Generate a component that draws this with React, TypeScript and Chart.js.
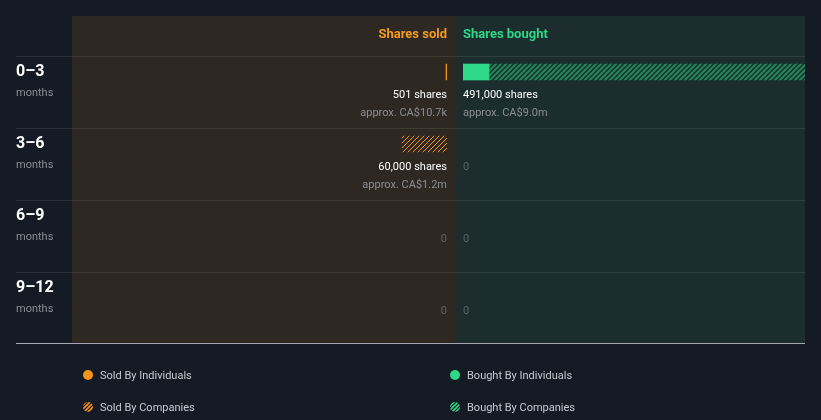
import React, { useEffect, useRef } from 'react';
import { Chart, registerables } from 'chart.js';

Chart.register(...registerables);

// ---- data ----
const periods = ['0–3', '3–6', '6–9', '9–12'];
const periodUnit = 'months';
const soldByIndividuals = [501, 0, 0, 0];
const soldByCompanies = [0, 60000, 0, 0];
const boughtByIndividuals = [37300, 0, 0, 0];
const boughtByCompanies = [453700, 0, 0, 0];
const soldValueLabels = ['approx. CA$10.7k', 'approx. CA$1.2m', '', ''];
const boughtValueLabels = ['approx. CA$9.0m', '', '', ''];
const headerLabels = ['Shares sold', 'Shares bought'];
const legendLabels = ['Sold By Individuals', 'Sold By Companies', 'Bought By Individuals', 'Bought By Companies'];

// ---- style ----
const FONT = 'Roboto, "Noto Sans", sans-serif';
const BG = '#151b25';
const SOLD_PANEL = '#2d2822';
const BOUGHT_PANEL = '#1b2e2d';
const ORANGE = '#f7931a';
const GREEN = '#2dd886';
const BAR = 16;

function makeHatch(color: string, lw: number, size: number) {
  const c = document.createElement('canvas');
  c.width = size;
  c.height = size;
  const g = c.getContext('2d') as CanvasRenderingContext2D;
  g.strokeStyle = color;
  g.lineWidth = lw;
  g.beginPath();
  g.moveTo(-size, size); g.lineTo(size, -size);
  g.moveTo(0, size); g.lineTo(size, 0);
  g.moveTo(0, 2 * size); g.lineTo(2 * size, 0);
  g.stroke();
  return g.createPattern(c, 'repeat') as CanvasPattern;
}

const nz = (arr: number[]) => arr.map((v) => (v ? v : null));

export default function App() {
  const ref = useRef<HTMLCanvasElement | null>(null);

  useEffect(() => {
    const canvas = ref.current;
    if (!canvas) return;
    const orangeHatch = makeHatch(ORANGE, 1, 5);
    const greenHatch = makeHatch('rgba(45,216,134,0.52)', 2, 5);
    const orangeHatchLegend = makeHatch(ORANGE, 1.6, 4);
    const greenHatchLegend = makeHatch(GREEN, 1.6, 4);

    const soldTotals = periods.map((_, i) => soldByIndividuals[i] + soldByCompanies[i]);
    const boughtTotals = periods.map((_, i) => boughtByIndividuals[i] + boughtByCompanies[i]);
    const maxTotal = Math.max(...soldTotals, ...boughtTotals);

    const decor = {
      id: 'decor',
      beforeDatasetsDraw(chart: any) {
        const ctx = chart.ctx as CanvasRenderingContext2D;
        const ys = chart.scales.y, xs = chart.scales.xs, xg = chart.scales.xg, xb = chart.scales.xb;
        const n = periods.length;
        const rowH = ys.getPixelForValue(1) - ys.getPixelForValue(0);
        const rowTop = (i: number) => ys.getPixelForValue(i) - BAR / 2 - 8;
        const split = (xg.left + xg.right) / 2;
        const soldLeft = xs.left - 8;
        const right = xb.right;
        const top = rowTop(0) - 40;
        const bottom = rowTop(n - 1) + rowH;
        const margin = 16;
        ctx.save();
        ctx.fillStyle = BG;
        ctx.fillRect(0, 0, chart.width, chart.height);
        ctx.fillStyle = SOLD_PANEL;
        ctx.fillRect(soldLeft, top, split - soldLeft, bottom - top);
        ctx.fillStyle = BOUGHT_PANEL;
        ctx.fillRect(split, top, right - split, bottom - top);
        // row lines
        ctx.fillStyle = 'rgba(255,255,255,0.09)';
        for (let i = 0; i < n; i++) {
          ctx.fillRect(margin, Math.round(rowTop(i)), right - margin, 1);
        }
        ctx.fillStyle = '#a3a8b0';
        ctx.fillRect(margin, bottom - 1, right - margin, 1);
        // headers
        ctx.font = `bold 13px ${FONT}`;
        ctx.textBaseline = 'middle';
        ctx.fillStyle = '#f59b1f';
        ctx.textAlign = 'right';
        ctx.fillText(headerLabels[0], xs.getPixelForValue(0), top + 19);
        ctx.fillStyle = GREEN;
        ctx.textAlign = 'left';
        ctx.fillText(headerLabels[1], xb.getPixelForValue(0), top + 19);
        // row labels
        for (let i = 0; i < n; i++) {
          const t = rowTop(i);
          ctx.textAlign = 'left';
          ctx.textBaseline = 'alphabetic';
          ctx.fillStyle = '#ffffff';
          ctx.font = `bold 16px ${FONT}`;
          ctx.fillText(periods[i], margin, t + 20);
          ctx.textBaseline = 'middle';
          ctx.fillStyle = '#8a8e96';
          ctx.font = `11px ${FONT}`;
          ctx.fillText(periodUnit, margin, t + 37);
        }
        ctx.restore();
      },
      afterDatasetsDraw(chart: any) {
        const ctx = chart.ctx as CanvasRenderingContext2D;
        const ys = chart.scales.y, xs = chart.scales.xs, xg = chart.scales.xg, xb = chart.scales.xb;
        const n = periods.length;
        const rowTop = (i: number) => ys.getPixelForValue(i) - BAR / 2 - 8;
        ctx.save();
        ctx.textBaseline = 'middle';
        const sides = [
          { totals: soldTotals, values: soldValueLabels, x: xs.getPixelForValue(0), align: 'right' as CanvasTextAlign },
          { totals: boughtTotals, values: boughtValueLabels, x: xb.getPixelForValue(0), align: 'left' as CanvasTextAlign },
        ];
        for (const s of sides) {
          ctx.textAlign = s.align;
          for (let i = 0; i < n; i++) {
            const t = rowTop(i);
            ctx.font = `11px ${FONT}`;
            if (s.totals[i] > 0) {
              ctx.fillStyle = '#ffffff';
              ctx.fillText(`${s.totals[i].toLocaleString('en-US')} shares`, s.x, t + 39);
              ctx.fillStyle = '#8b8e93';
              ctx.fillText(s.values[i], s.x, t + 57);
            } else {
              ctx.fillStyle = 'rgba(255,255,255,0.25)';
              ctx.fillText('0', s.x, t + 39);
            }
          }
        }
        // legend
        const split = (xg.left + xg.right) / 2;
        const lx = [xs.left + 8, xs.left + 8, split, split];
        const ly = [375, 407, 375, 407];
        const fills: (string | CanvasPattern)[] = [ORANGE, orangeHatchLegend, GREEN, greenHatchLegend];
        ctx.textAlign = 'left';
        ctx.font = `11px ${FONT}`;
        for (let k = 0; k < legendLabels.length; k++) {
          ctx.save();
          ctx.beginPath();
          ctx.arc(lx[k], ly[k], 5, 0, Math.PI * 2);
          ctx.fillStyle = fills[k];
          ctx.fill();
          ctx.restore();
          ctx.fillStyle = '#c6cad0';
          ctx.fillText(legendLabels[k], lx[k] + 12, ly[k] + 1);
        }
        ctx.restore();
      },
    };

    const chart = new Chart(canvas, {
      type: 'bar',
      data: {
        labels: periods,
        datasets: [
          { label: legendLabels[0], data: nz(soldByIndividuals), xAxisID: 'xs', backgroundColor: ORANGE, stack: 'all', minBarLength: 1 },
          { label: legendLabels[1], data: nz(soldByCompanies), xAxisID: 'xs', backgroundColor: orangeHatch, stack: 'all' },
          { label: legendLabels[2], data: nz(boughtByIndividuals), xAxisID: 'xb', backgroundColor: GREEN, stack: 'all', minBarLength: 1 },
          { label: legendLabels[3], data: nz(boughtByCompanies), xAxisID: 'xb', backgroundColor: greenHatch, stack: 'all' },
        ] as any,
      },
      options: {
        indexAxis: 'y',
        animation: false,
        responsive: false,
        devicePixelRatio: 1,
        layout: { padding: { left: 80, right: 16, top: 36, bottom: 96 } },
        datasets: { bar: { barThickness: BAR, borderWidth: 0 } } as any,
        scales: {
          y: { type: 'category', display: false, offset: true },
          xs: { type: 'linear', position: 'bottom', display: false, reverse: true, min: 0, max: maxTotal, stacked: true, stack: 'cols', stackWeight: 367, weight: 0 },
          xg: { type: 'linear', position: 'bottom', display: false, stack: 'cols', stackWeight: 16, weight: 1 },
          xb: { type: 'linear', position: 'bottom', display: false, min: 0, max: maxTotal, stacked: true, stack: 'cols', stackWeight: 342, weight: 2 },
        } as any,
        plugins: { legend: { display: false }, tooltip: { enabled: false } },
      },
      plugins: [decor],
    });
    return () => chart.destroy();
  }, []);

  return (
    <div style={{ position: 'fixed', left: 0, top: 0, width: 821, height: 420, background: BG }}>
      <canvas ref={ref} width={821} height={420} style={{ display: 'block', width: 821, height: 420 }} />
    </div>
  );
}
